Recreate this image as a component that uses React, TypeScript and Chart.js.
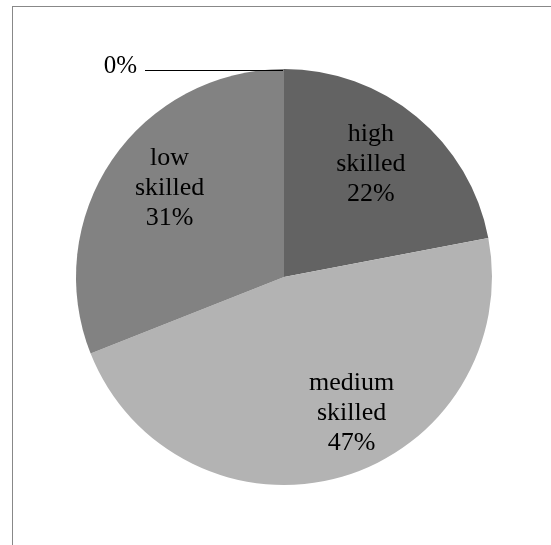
import React, { useEffect, useRef } from "react";
import { Chart, registerables } from "chart.js";

Chart.register(...registerables);

// Share of employment by skill level
const categories: string[] = ["high skilled", "medium skilled", "low skilled", ""];
const shares: number[] = [22, 47, 31, 0];
const sliceColors: string[] = ["#636363", "#b3b3b3", "#828282", "#9a9a9a"];

// Small shifts of the in-slice labels away from the mid-angle spot
const labelNudges: [number, number][] = [
  [-6, -1],
  [27, -4],
  [6, -7],
  [0, 0],
];

const FONT = "'Times New Roman', 'Liberation Serif', serif";

const sliceLabels = {
  id: "sliceLabels",
  afterDatasetsDraw(chart: any) {
    const ctx = chart.ctx as CanvasRenderingContext2D;
    const meta = chart.getDatasetMeta(0);
    const data = chart.data.datasets[0].data as number[];
    const total = data.reduce((a, b) => a + b, 0);
    ctx.save();
    ctx.fillStyle = "#000";
    meta.data.forEach((arc: any, i: number) => {
      const { x, y, startAngle, endAngle, outerRadius } = arc.getProps(
        ["x", "y", "startAngle", "endAngle", "outerRadius"],
        true
      );
      const pct = `${Math.round((data[i] / total) * 100)}%`;
      if (data[i] === 0) {
        // zero share: label outside with a leader line to the slice edge
        const px = x + Math.cos(startAngle) * outerRadius;
        const py = y + Math.sin(startAngle) * outerRadius;
        ctx.strokeStyle = "#000";
        ctx.lineWidth = 1;
        ctx.beginPath();
        ctx.moveTo(px - 139, py + 1.5);
        ctx.lineTo(px - 1, py + 1.5);
        ctx.stroke();
        ctx.font = `25px ${FONT}`;
        ctx.textAlign = "right";
        ctx.textBaseline = "alphabetic";
        ctx.fillText(pct, px - 147, py + 4);
        return;
      }
      const mid = (startAngle + endAngle) / 2;
      const r = outerRadius * 0.7;
      const cx = x + Math.cos(mid) * r + labelNudges[i][0];
      const cy = y + Math.sin(mid) * r + labelNudges[i][1];
      const lines = [...categories[i].split(" "), pct];
      const lh = 30;
      ctx.font = `26px ${FONT}`;
      ctx.textAlign = "center";
      ctx.textBaseline = "middle";
      lines.forEach((t, k) => {
        ctx.fillText(t, cx, cy + (k - (lines.length - 1) / 2) * lh);
      });
    });
    ctx.restore();
  },
};

export default function App() {
  const canvasRef = useRef<HTMLCanvasElement | null>(null);

  useEffect(() => {
    const canvas = canvasRef.current;
    if (!canvas) return;
    const chart = new Chart(canvas, {
      type: "pie",
      data: {
        labels: categories,
        datasets: [
          {
            data: shares,
            backgroundColor: sliceColors,
            borderWidth: 0,
            hoverOffset: 0,
          },
        ],
      },
      options: {
        responsive: false,
        maintainAspectRatio: false,
        animation: false,
        layout: { padding: { left: 76, right: 59, top: 69, bottom: 60 } },
        plugins: {
          legend: { display: false },
          tooltip: { enabled: false },
        },
        events: [],
      },
      plugins: [sliceLabels],
    });
    return () => chart.destroy();
  }, []);

  return (
    <div
      style={{
        position: "fixed",
        left: 0,
        top: 0,
        width: 551,
        height: 545,
        background: "#fff",
        overflow: "hidden",
      }}
    >
      <div
        style={{
          position: "absolute",
          left: 12,
          top: 6,
          width: 560,
          height: 560,
          borderLeft: "1px solid #888",
          borderTop: "1px solid #888",
        }}
      />
      <canvas
        ref={canvasRef}
        width={551}
        height={545}
        style={{ position: "absolute", left: 0, top: 0, width: 551, height: 545 }}
      />
    </div>
  );
}
